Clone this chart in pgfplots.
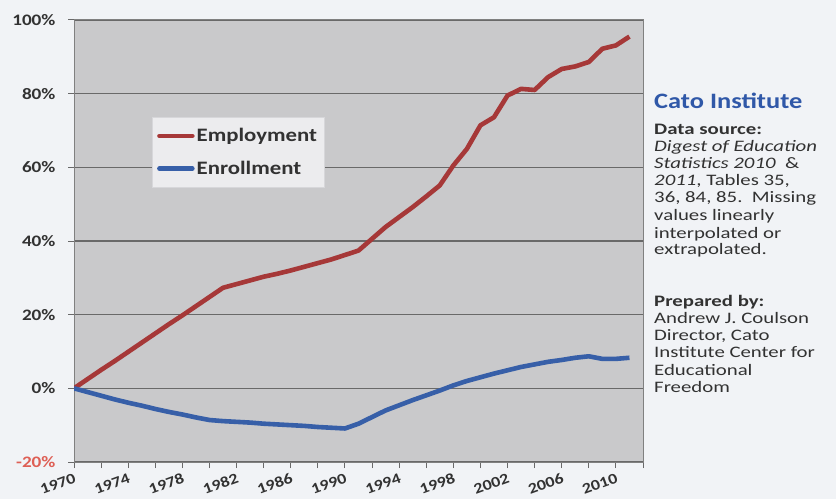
\documentclass[border=0pt]{standalone}
\usepackage{fontspec}
\setmainfont{Carlito}[FakeStretch=1.2]
\newfontfamily\panelfont{Carlito}[FakeStretch=1.3]
\usepackage{pgfplots}
\usepackage{pgfplotstable}
\pgfplotsset{compat=1.18}
\definecolor{bgcol}{RGB}{241,243,246}
\definecolor{plotbg}{RGB}{201,201,203}
\definecolor{gridc}{RGB}{105,105,105}
\definecolor{empred}{RGB}{166,56,56}
\definecolor{enrblue}{RGB}{55,95,168}
\definecolor{catoblue}{RGB}{48,88,168}
\definecolor{txt}{RGB}{50,50,50}
\definecolor{negred}{RGB}{222,95,85}

\pgfplotstableread{
year emp enr
1970 0 0
1971 2.5 -1.0
1972 5.0 -2.0
1973 7.4 -3.0
1974 9.9 -3.9
1975 12.4 -4.7
1976 14.9 -5.6
1977 17.4 -6.4
1978 19.8 -7.1
1979 22.3 -7.9
1980 24.8 -8.6
1981 27.3 -8.9
1982 28.3 -9.1
1983 29.3 -9.3
1984 30.3 -9.6
1985 31.1 -9.8
1986 32.0 -10.0
1987 33.0 -10.2
1988 34.0 -10.5
1989 35.0 -10.7
1990 36.2 -10.9
1991 37.4 -9.6
1992 40.6 -7.8
1993 43.8 -6.0
1994 46.5 -4.6
1995 49.2 -3.2
1996 52.1 -1.9
1997 55.1 -0.6
1998 60.5 0.8
1999 65.0 2.0
2000 71.4 3.0
2001 73.6 4.0
2002 79.5 4.9
2003 81.3 5.8
2004 81.0 6.5
2005 84.5 7.2
2006 86.7 7.7
2007 87.4 8.3
2008 88.6 8.7
2009 92.2 8.0
2010 93.1 8.0
2011 95.5 8.3
}\datatable

\begin{document}
\begin{tikzpicture}[x=1pt,y=1pt]
\useasboundingbox (0,0) rectangle (836,499);
\fill[bgcol] (0,0) rectangle (836,499);
\begin{axis}[
  at={(74pt,37pt)}, anchor=south west,
  width=569pt, height=442pt, scale only axis,
  xmin=1970, xmax=2012, ymin=-20, ymax=100,
  xtick={1970,1974,...,2010},
  xticklabels={1970,1974,1978,1982,1986,1990,1994,1998,2002,2006,2010},
  minor xtick={1972,1976,...,2012},
  ytick={-20,0,...,100},
  yticklabels={\textcolor{negred}{-20\%},0\%,20\%,40\%,60\%,80\%,100\%},
  ymajorgrids,
  major grid style={gridc, line width=1.1pt},
  tick align=outside,
  major tick length=6pt, minor tick length=6pt,
  every tick/.style={gridc, line width=1pt},
  minor tick style={gridc, line width=1pt},
  xtick pos=bottom, ytick pos=left,
  axis line style={gridc!85, line width=1pt},
  axis background/.style={fill=plotbg},
  xticklabel style={font=\bfseries\fontsize{15}{17}\selectfont, text=txt, rotate=20, anchor=north east, inner sep=1pt, xshift=-1pt, yshift=-3pt},
  yticklabel style={font=\bfseries\fontsize{16}{18}\selectfont, text=txt, anchor=east, xshift=-9pt},
  legend cell align=left,
  legend style={at={(rel axis cs:0.137,0.78)}, anchor=north west,
    fill={rgb,255:red,236;green,236;blue,238}, draw={rgb,255:red,215;green,215;blue,218},
    font=\bfseries\fontsize{19}{21}\selectfont, text=txt,
    inner xsep=5pt, inner ysep=9pt, row sep=14pt,
    /tikz/every even column/.append style={column sep=3pt}},
  legend image code/.code={\draw[#1, line width=4.5pt, line cap=round] (0pt,0pt) -- (33pt,0pt);},
]
\addplot[empred, line width=4.6pt, line join=round] table[x=year,y=emp]{\datatable};
\addlegendentry{Employment}
\addplot[enrblue, line width=4.6pt, line join=round] table[x=year,y=enr]{\datatable};
\addlegendentry{Enrollment}
\end{axis}
\node[anchor=base west, inner sep=0, text=catoblue, font=\bfseries\fontsize{22}{26}\selectfont] at (654,390) {Cato Institute};
\begin{scope}[every node/.style={anchor=base west, inner sep=0, text=txt, font=\panelfont\fontsize{16}{18}\selectfont}]
\node at (654,364) {\bfseries Data source:};
\node at (654,347) {\itshape Digest of Education};
\node at (654,330) {\textit{Statistics 2010}\ \ \&};
\node at (654,313) {\textit{2011}, Tables 35,};
\node at (654,296) {36, 84, 85.\ \ Missing};
\node at (654,279) {values linearly};
\node at (654,261) {interpolated or};
\node at (654,244) {extrapolated.};
\node at (654,193) {\bfseries Prepared by:};
\node at (654,176) {Andrew J. Coulson};
\node at (654,159) {Director, Cato};
\node at (654,142) {Institute Center for};
\node at (654,124) {Educational};
\node at (654,107) {Freedom};
\end{scope}
\end{tikzpicture}
\end{document}
